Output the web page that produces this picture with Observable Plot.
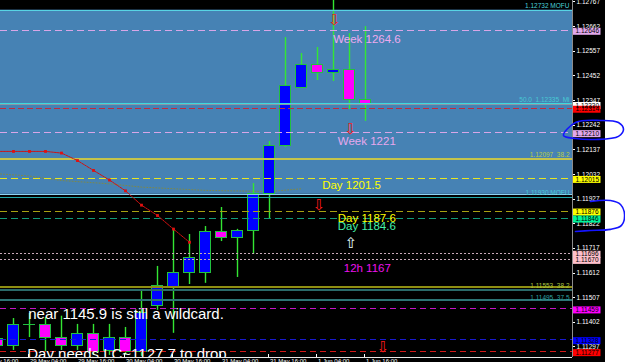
<!DOCTYPE html>
<html><head><meta charset="utf-8">
<script src="https://cdn.jsdelivr.net/npm/d3@7"></script>
<script src="https://cdn.jsdelivr.net/npm/@observablehq/plot@0.6"></script>
<style>
html,body{margin:0;padding:0;background:#fff;overflow:hidden;}
#chart svg{display:block;}
</style></head><body><div id="chart"></div>
<script>
// ---------------- DATA ----------------
const barIndex = [-1,0,1,2,3,4,5,6,7,8,9,10,11,12,13,14,15,16,17,18,19,20,21,22];
const opens  = [1.11329,1.11299,1.11393,1.11389,1.11333,1.11303,1.11350,1.11278,1.11337,1.11274,1.11470,1.11551,1.11610,1.11610,1.11785,1.11763,1.11789,1.11947,1.12151,1.12402,1.12500,1.12462,1.12475,1.12347];
const highs  = [1.11335,1.11418,1.11440,1.11423,1.11428,1.11393,1.11393,1.11393,1.11380,1.11538,1.11640,1.11802,1.11776,1.11810,1.11891,1.11798,1.11993,1.12172,1.12615,1.12547,1.12573,1.12790,1.12632,1.12662];
const lows   = [1.11285,1.11282,1.11337,1.11274,1.11282,1.11282,1.11261,1.11261,1.11261,1.11257,1.11453,1.11355,1.11563,1.11568,1.11746,1.11593,1.11691,1.11844,1.12147,1.12398,1.12432,1.12428,1.12309,1.12258];
const closes = [1.11299,1.11389,1.11393,1.11333,1.11303,1.11350,1.11274,1.11337,1.11274,1.11440,1.11555,1.11610,1.11674,1.11785,1.11763,1.11789,1.11947,1.12151,1.12407,1.12500,1.12466,1.12479,1.12347,1.12330];

const maIndex  = [-1,0,1,2,3,4,5,6,7,8,9,10,11];
const maValues = [1.12130,1.12130,1.12130,1.12130,1.12123,1.12091,1.12049,1.12008,1.11962,1.11901,1.11857,1.11799,1.11743];

const slowIndex  = [-1,1,3,6,8,12,16,18];
const slowValues = [1.12035,1.12025,1.12006,1.11992,1.11978,1.11964,1.11959,1.11971];

const zoneTop = 1.12732, zoneBottom = 1.11947;

const levelNames  = ["mofuTop","week1264","fib50","bid","red1231","week1221","fib382a","day1201","zoneEdge","mofuBottom","day1187","day1184","h12a","h12b","fib382b","teal1","fib375","wild1145","blue1133","red1127"];
const levelPrices = [1.12732,1.12646,1.12335,1.12330,1.12314,1.12210,1.12097,1.12015,1.11947,1.11935,1.11876,1.11846,1.11696,1.11670,1.11553,1.11541,1.11495,1.11459,1.11328,1.11277];

const boxLevels = ["week1264","bid","red1231","week1221","day1201","day1187","day1184","h12a","h12b","wild1145","blue1133","red1127"];

const priceTicks = [1.12767,1.12662,1.12557,1.12452,1.12347,1.12242,1.12137,1.12032,1.11927,1.11822,1.11717,1.11612,1.11507,1.11402,1.11297];

const timeTickIndex  = [-2,1,4,7,10,13,16,19,22];
const timeTickLabels = ["28 May 16:00","29 May 04:00","29 May 16:00","30 May 04:00","30 May 16:00","31 May 04:00","31 May 16:00","1 Jun 04:00","1 Jun 16:00"];

const lineLabelTexts  = ["1.12732 MOFU","50.0  1.12335  Mi","1.12097  38.2","1.11930 MOFU","1.11553  38.2","1.11495  37.5"];
const lineLabelPrices = [1.12750,1.12349,1.12114,1.11955,1.11556,1.11506];

const annoTexts  = ["Week 1264.6","Week 1221","Day 1201.5","Day 1187.6","Day 1184.6","12h 1167","near 1145.9 is still a wildcard.","Day needs LC~1127.7 to drop"];
const annoBars   = [19.98,20.27,19.29,20.27,20.27,20.64,0.92,0.86];
const annoPrices = [1.12607,1.12171,1.11984,1.11844,1.11813,1.11632,1.11438,1.11264];

const arrowBars   = [20.06,21.06,19.09,21.09,23.09];
const arrowPrices = [1.12688,1.12224,1.11900,1.11740,1.11297];
const arrowDirs   = ["down","down","down","up","down"];

// hand-drawn blue marks (bar index, price)
const scribble1Bars   = [34.375,35.125,36.69,37.81,38.125,37.81,36.375,35.125];
const scribble1Prices = [1.12198,1.12253,1.12262,1.12253,1.12224,1.12194,1.12181,1.12185];
const scribble2Bars   = [36.06,37.31,37.94,38.19,38.0,37.31,36.06,35.125];
const scribble2Prices = [1.11917,1.11921,1.11904,1.11861,1.11815,1.11798,1.11793,1.11789];

// ---------------- LAYOUT / STYLE ----------------
const W = 625, H = 362, PLOT_W = 572, PLOT_H = 357, BAR_PX = 16, FIRST_BAR_PX = 13;
const xDomain = [-FIRST_BAR_PX / BAR_PX, (PLOT_W - FIRST_BAR_PX) / BAR_PX];
const xAt = px => xDomain[0] + px / BAR_PX;
const yDomain = [1.11252, 1.12773];
const PPU = PLOT_H / (yDomain[1] - yDomain[0]);
const yAt = py => yDomain[1] - py / PPU;
const fmt5 = d3.format(".5f");
const FONT = "Liberation Sans, Arial, sans-serif";
const CRISP = "crispEdges";

const levelStyle = {
  mofuTop:    {stroke: "#58d4e4", width: 1},
  week1264:   {stroke: "#d8a6e8", width: 1, dash: "7,4"},
  fib50:      {stroke: "#3ed8dc", width: 1},
  bid:        {stroke: "#8a98a6", width: 1},
  red1231:    {stroke: "#c42a3c", width: 1, dash: "6,3"},
  week1221:   {stroke: "#d8a6e8", width: 1, dash: "7,4"},
  fib382a:    {stroke: "#c4c44c", width: 2},
  day1201:    {stroke: "#e6e622", width: 1, dash: "7,4"},
  zoneEdge:   {stroke: "#8ed2f2", width: 1},
  mofuBottom: {stroke: "#22a8a8", width: 1},
  day1187:    {stroke: "#a8a012", width: 1, dash: "7,4"},
  day1184:    {stroke: "#119a7a", width: 1, dash: "7,4"},
  h12a:       {stroke: "#c8a8b8", width: 1, dash: "2,2"},
  h12b:       {stroke: "#c8a8b8", width: 1, dash: "2,2"},
  fib382b:    {stroke: "#8e8e12", width: 2},
  teal1:      {stroke: "#2a6a6a", width: 2},
  fib375:     {stroke: "#2c7474", width: 2},
  wild1145:   {stroke: "#c414c4", width: 1, dash: "6,4"},
  blue1133:   {stroke: "#1a1ad0", width: 1, dash: "6,4"},
  red1127:    {stroke: "#d41818", width: 1, dash: "6,4"}
};
const boxFill = {
  week1264: "#e2a8ec", bid: "#ffffff", red1231: "#ff0000", week1221: "#e2a8ec",
  day1201: "#ffff00", day1187: "#ffff00", day1184: "#00f59a", h12a: "#ffc0cb",
  h12b: "#ffc0cb", wild1145: "#ff00ff", blue1133: "#0000ff", red1127: "#ff0000"
};
const lineLabelColors = ["#4ad2dc","#46cad4","#b8cc44","#46cad4","#a8c040","#2fa0a0"];
const annoColors = ["#eeaaee","#e6a8ee","#ffff00","#ffff00","#44f2aa","#ee12ee","#ffffff","#ffffff"];
const annoSizes  = [11.5,11.5,11.5,11.5,11.5,11.5,15,15];
const arrowColor = {down: "#ff1a1a", up: "#e8ffff"};
const arrowGlyph = {down: "\u21E9", up: "\u21E7"};
const WICK = "#33e633", OUTLINE = "#22c040", BULL = "#0000ff", BEAR = "#ff00ff";

// ---------------- BUILD ----------------
const candles = barIndex.map((i, k) => ({i, open: opens[k], high: highs[k], low: lows[k], close: closes[k]}));
const bodies = candles.filter(d => d.open !== d.close);
const dojis = candles.filter(d => d.open === d.close);
const levels = levelNames.map((name, k) => ({name, price: levelPrices[k]}));
const priceOf = Object.fromEntries(levels.map(d => [d.name, d.price]));
const boxes = boxLevels.map(name => ({name, price: priceOf[name]}));
const ma = maIndex.map((i, k) => ({i, v: maValues[k]}));
const slow = slowIndex.map((i, k) => ({i, v: slowValues[k]}));
const lineLabels = lineLabelTexts.map((t, k) => ({t, p: lineLabelPrices[k], c: lineLabelColors[k]}));
const annos = annoTexts.map((t, k) => ({t, i: annoBars[k], p: annoPrices[k], c: annoColors[k], s: annoSizes[k]}));
const arrows = arrowDirs.map((d, k) => ({d, i: arrowBars[k], p: arrowPrices[k]}));
const scrib1 = scribble1Bars.map((i, k) => ({i, p: scribble1Prices[k]}));
const scrib2 = scribble2Bars.map((i, k) => ({i, p: scribble2Prices[k]}));
const times = timeTickIndex.map((i, k) => ({i, t: timeTickLabels[k]}));

const marks = [];
// zone background
marks.push(Plot.rect([{top: zoneTop, bottom: zoneBottom}], {x1: () => xDomain[0], x2: () => xDomain[1], y1: "top", y2: "bottom", fill: "#4682b4"}));
// slow dotted indicator
marks.push(Plot.line(slow, {x: "i", y: "v", stroke: "#8a8a30", strokeWidth: 1, strokeDasharray: "1,2", strokeOpacity: 0.8}));
// candles
marks.push(Plot.ruleX(candles, {x: "i", y1: "low", y2: "high", stroke: WICK, strokeWidth: 1.4}));
marks.push(Plot.rect(bodies, {x1: d => d.i - 0.36, x2: d => d.i + 0.36, y1: "open", y2: "close",
  fill: d => d.close > d.open ? BULL : BEAR, stroke: OUTLINE, strokeWidth: 1, shapeRendering: CRISP}));
marks.push(Plot.ruleY(dojis, {y: "open", x1: d => d.i - 0.4, x2: d => d.i + 0.4, stroke: OUTLINE, strokeWidth: 1.5, shapeRendering: CRISP}));
// level lines
for (const l of levels) {
  const s = levelStyle[l.name];
  marks.push(Plot.ruleY([l.price], {stroke: s.stroke, strokeWidth: s.width, strokeDasharray: s.dash || null, shapeRendering: CRISP}));
}
// moving average
marks.push(Plot.line(ma, {x: "i", y: "v", stroke: "#d01010", strokeWidth: 1, strokeDasharray: "2,1"}));
marks.push(Plot.dot(ma, {x: "i", y: "v", symbol: "square", r: 1.6, fill: "#e01010"}));
// small line labels
marks.push(Plot.text(lineLabels, {x: () => xAt(569), y: "p", text: "t", fill: "c", textAnchor: "end", fontSize: 6.5, fontFamily: FONT}));
// annotations (clipped to the chart area like the original)
for (const a of annos) {
  marks.push(Plot.text([a], {x: "i", y: "p", text: "t", fill: a.c, fontSize: a.s, textAnchor: "start", fontFamily: FONT, clip: true}));
}
// arrows
for (const a of arrows) {
  marks.push(Plot.text([a], {x: "i", y: "p", text: () => arrowGlyph[a.d], fill: arrowColor[a.d], fontSize: 15, fontFamily: "DejaVu Sans"}));
}
// cover below plot
marks.push(Plot.rect([0], {x1: () => xAt(-2), x2: () => xAt(640), y1: () => yDomain[0], y2: () => yAt(H + 2), fill: "black"}));
// price axis
marks.push(Plot.ruleX([xDomain[1]], {stroke: "#8c8c8c", strokeWidth: 1, shapeRendering: CRISP}));
marks.push(Plot.ruleY(priceTicks, {y: d => d, x1: () => xAt(572.5), x2: () => xAt(575), stroke: "white", shapeRendering: CRISP}));
marks.push(Plot.text(priceTicks, {y: d => d, x: () => xAt(576), text: d => fmt5(d), fill: "white", textAnchor: "start", fontSize: 6.5, fontFamily: FONT}));
marks.push(Plot.ruleY(boxes, {y: "price", x1: () => xAt(573), x2: () => xAt(600.5), stroke: d => boxFill[d.name], strokeWidth: 7, dy: 1}));
marks.push(Plot.text(boxes, {y: "price", x: () => xAt(575), dy: 1, text: d => fmt5(d.price), fill: "black", textAnchor: "start", fontSize: 6.5, fontFamily: FONT}));
// time axis
marks.push(Plot.ruleY([yDomain[0]], {stroke: "#e8e8e8", strokeWidth: 1, shapeRendering: CRISP}));
marks.push(Plot.ruleX(times, {x: "i", y1: () => yDomain[0], y2: () => yAt(PLOT_H - 3), dx: -1, stroke: "white", shapeRendering: CRISP}));
marks.push(Plot.text(times, {x: "i", y: () => yDomain[0], dy: 3.8, dx: 0.5, text: "t", fill: "white", textAnchor: "start", fontSize: 6, fontFamily: FONT}));
// white strip at right
marks.push(Plot.rect([0], {x1: () => xAt(605), x2: () => xAt(640), y1: () => yAt(-5), y2: () => yAt(H + 5), fill: "white"}));
// hand-drawn blue marks
marks.push(Plot.line(scrib1, {x: "i", y: "p", stroke: "#1414ff", strokeWidth: 1.6, curve: "catmull-rom-closed"}));
marks.push(Plot.line(scrib2, {x: "i", y: "p", stroke: "#1414ff", strokeWidth: 1.6, curve: "catmull-rom"}));

const chart = Plot.plot({
  width: W, height: H,
  marginLeft: 0, marginRight: W - PLOT_W, marginTop: 0, marginBottom: H - PLOT_H,
  x: {domain: xDomain, axis: null},
  y: {domain: yDomain, axis: null},
  color: {type: "identity"},
  style: {background: "black", fontFamily: FONT, overflow: "hidden"},
  marks
});
document.getElementById("chart").append(chart);
</script>
</body></html>
